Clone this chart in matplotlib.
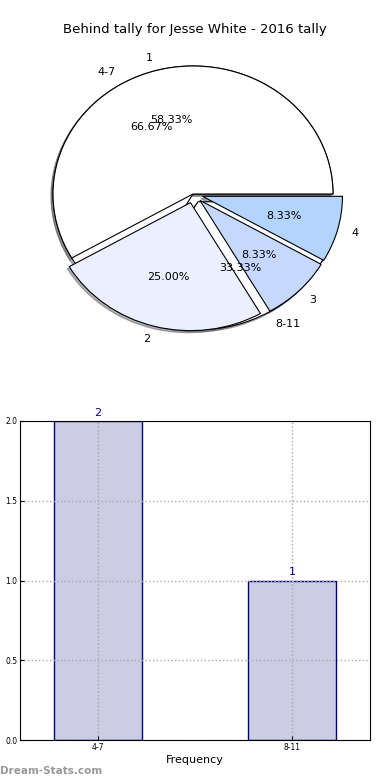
import numpy as np
import matplotlib
matplotlib.use('Agg')
import matplotlib.pyplot as plt

# data
range_labels = ['4-7', '8-11']
range_counts = [2, 1]
place_labels = ['1', '2', '3', '4']
place_counts = [7, 3, 1, 1]
place_colors = ['#ffffff', '#eaf0ff', '#c6d8ff', '#b3d4ff']
title = 'Behind tally for Jesse White - 2016 tally'

fig = plt.figure(figsize=(3.9, 7.8), dpi=100)

# pie (not circular, old style)
shadow = {'ox': -0.01, 'oy': -0.012, 'shade': 0.6}
ax1 = fig.add_axes([18 / 390, 1 - 354 / 780, 350 / 390, 320 / 780])
ax1.pie(range_counts, labels=range_labels, colors=['white', 'white'],
        explode=[0, 0.07], autopct='%.2f%%', shadow=shadow,
        wedgeprops={'linewidth': 0.8, 'edgecolor': 'black'},
        textprops={'fontsize': 8})
ax1.pie(place_counts, labels=place_labels, colors=place_colors,
        explode=[0, 0.07, 0.07, 0.07], autopct='%.2f%%', shadow=shadow,
        wedgeprops={'linewidth': 0.8, 'edgecolor': 'black'},
        textprops={'fontsize': 8})
ax1.set_aspect('auto')
ax1.set_xlim(-1.25, 1.25)
ax1.set_ylim(-1.25, 1.25)
fig.text(0.5, 1 - 30 / 780, title, ha='center', va='center', fontsize=9.5)

# bars
ax2 = fig.add_axes([20 / 390, 1 - 740 / 780, 350 / 390, 319 / 780])
x = np.arange(len(range_labels))
ax2.bar(x, range_counts, width=0.45, color='#ccccE4', edgecolor='navy', linewidth=1)
for xi, v in zip(x, range_counts):
    ax2.text(xi, v + 0.02, str(v), ha='center', va='bottom', color='navy', fontsize=8)
ax2.set_xlim(-0.4, 1.4)
ax2.set_ylim(0, 2)
ax2.set_xticks(x)
ax2.set_xticklabels(range_labels)
ax2.set_yticks(np.arange(0, 2.01, 0.5))
ax2.tick_params(labelsize=5.5, length=3, direction='in', pad=2)
ax2.grid(True, linestyle=':', color='#aaaaaa', linewidth=1)
for sp in ax2.spines.values():
    sp.set_zorder(3)
ax2.set_xlabel('Frequency', fontsize=8, labelpad=2)

fig.text(0.0, 1 - 771 / 780, 'Dream-Stats.com', ha='left', va='center',
         fontsize=7.5, color='#999999', fontweight='bold')

fig.savefig('out.png', dpi=100)
